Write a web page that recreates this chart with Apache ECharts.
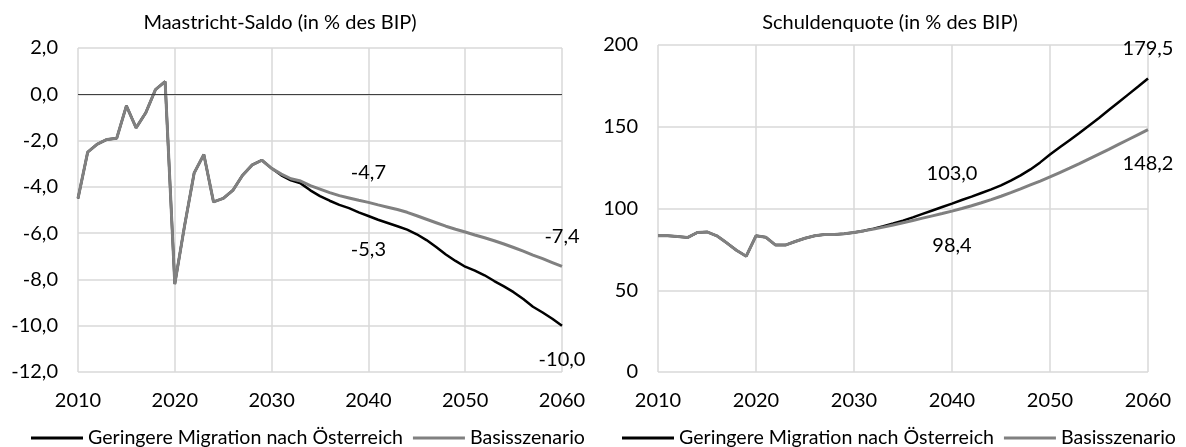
<!DOCTYPE html>
<html>
<head>
<meta charset="utf-8">
<title>Maastricht-Saldo und Schuldenquote</title>
<script src="https://cdn.jsdelivr.net/npm/echarts@6/dist/echarts.min.js"></script>
<style>
  html, body { margin: 0; padding: 0; background: #fff; }
  #chart { width: 1186px; height: 447px; }
</style>
</head>
<body>
<div id="chart"></div>
<script>
'use strict'

var years = [
  2010, 2011, 2012, 2013, 2014, 2015, 2016, 2017, 2018, 2019,
  2020, 2021, 2022, 2023, 2024, 2025, 2026, 2027, 2028, 2029,
  2030, 2031, 2032, 2033, 2034, 2035, 2036, 2037, 2038, 2039,
  2040, 2041, 2042, 2043, 2044, 2045, 2046, 2047, 2048, 2049,
  2050, 2051, 2052, 2053, 2054, 2055, 2056, 2057, 2058, 2059, 2060
];

var seriesNames = ['Geringere Migration nach Österreich', 'Basisszenario'];

// Maastricht-Saldo (in % des BIP)
var saldoGeringer = [
  -4.5, -2.5, -2.15, -1.95, -1.9, -0.5, -1.45, -0.8, 0.2, 0.55,
  -8.2, -5.7, -3.4, -2.6, -4.65, -4.5, -4.15, -3.5, -3.05, -2.85,
  -3.2, -3.5, -3.72, -3.85, -4.15, -4.4, -4.6, -4.78, -4.92, -5.1,
  -5.26, -5.42, -5.56, -5.7, -5.85, -6.05, -6.3, -6.6, -6.92, -7.2,
  -7.45, -7.62, -7.82, -8.07, -8.3, -8.55, -8.85, -9.18, -9.43, -9.7, -10.0
];
var saldoBasis = [
  -4.5, -2.5, -2.15, -1.95, -1.9, -0.5, -1.45, -0.8, 0.2, 0.55,
  -8.2, -5.7, -3.4, -2.6, -4.65, -4.5, -4.15, -3.5, -3.05, -2.85,
  -3.2, -3.45, -3.65, -3.75, -3.95, -4.1, -4.25, -4.38, -4.48, -4.58,
  -4.67, -4.78, -4.88, -4.98, -5.1, -5.25, -5.4, -5.55, -5.7, -5.83,
  -5.95, -6.08, -6.2, -6.33, -6.47, -6.62, -6.78, -6.95, -7.1, -7.27, -7.44
];

// Schuldenquote (in % des BIP)
var schuldGeringer = [
  83.3, 83.3, 82.9, 82.2, 85.3, 85.7, 83.3, 79.0, 74.5, 70.8,
  83.3, 82.4, 77.6, 77.6, 79.8, 81.8, 83.3, 84.1, 84.1, 84.5,
  85.3, 86.4, 87.7, 89.1, 90.8, 92.6, 94.6, 96.7, 98.8, 100.9,
  103.0, 105.2, 107.3, 109.5, 111.7, 114.2, 117.1, 120.3, 123.9, 128.2,
  133.0, 137.4, 141.8, 146.2, 150.8, 155.4, 160.2, 165.0, 169.8, 174.6, 179.5
];
var schuldBasis = [
  83.3, 83.3, 82.9, 82.2, 85.3, 85.7, 83.3, 79.0, 74.5, 70.8,
  83.3, 82.4, 77.6, 77.6, 79.8, 81.8, 83.3, 84.1, 84.1, 84.5,
  85.3, 86.3, 87.4, 88.6, 89.9, 91.3, 92.7, 94.1, 95.5, 96.9,
  98.4, 100.0, 101.7, 103.5, 105.4, 107.5, 109.7, 112.0, 114.4, 116.8,
  119.3, 122.0, 124.7, 127.5, 130.4, 133.3, 136.2, 139.2, 142.2, 145.2, 148.2
];

var labelledYears = [2040, 2060];

var saldoTicks = { min: -12, max: 2, interval: 2 };
var schuldTicks = { min: 0, max: 200, interval: 50 };

var FONT = 'Lato';
var FS = 20;
var TXT = '#000';
var GRIDC = '#d9d9d9';

function komma(v, d) {
  return v.toFixed(d).replace('.', ',');
}

// value labels only on the highlighted years
function withLabels(values, pos) {
  return values.map(function (v, i) {
    if (labelledYears.indexOf(years[i]) < 0) return v;
    return {
      value: v,
      label: {
        show: true,
        position: pos,
        distance: pos === 'top' ? 20 : 24,
        formatter: function (p) { return komma(p.value, 1); },
        fontFamily: FONT, fontSize: FS, color: TXT
      }
    };
  });
}

function xAxisFor(idx) {
  return {
    type: 'category', gridIndex: idx, data: years, boundaryGap: false,
    axisLine: { show: false }, axisTick: { show: false },
    axisLabel: {
      interval: 9, margin: 19, fontFamily: FONT, fontSize: FS, color: TXT
    },
    splitLine: { show: true, interval: 9, lineStyle: { color: GRIDC, width: 1.5 } }
  };
}

function yAxisFor(idx, ticks, dec) {
  return {
    type: 'value', gridIndex: idx,
    min: ticks.min, max: ticks.max, interval: ticks.interval,
    axisLine: { show: false }, axisTick: { show: false },
    axisLabel: {
      margin: 20, fontFamily: FONT, fontSize: FS, color: TXT,
      formatter: function (v) { return komma(v, dec); }
    },
    splitLine: { lineStyle: { color: GRIDC, width: 1.5 } }
  };
}

function lineSeries(name, idx, data, color, width, extra) {
  var s = {
    name: name, type: 'line', xAxisIndex: idx, yAxisIndex: idx,
    data: data, symbol: 'circle', symbolSize: 0, showSymbol: true, silent: true,
    lineStyle: { color: color, width: width },
    itemStyle: { color: color },
    emphasis: { disabled: true },
    animation: false
  };
  if (extra) s.markLine = extra;
  return s;
}

function legendFor(left) {
  return {
    data: seriesNames, left: left, top: 423, width: 575,
    icon: 'rect', itemWidth: 52, itemHeight: 3, itemGap: 10,
    textStyle: { fontFamily: FONT, fontSize: 19.6, color: TXT },
    selectedMode: false
  };
}

var zeroLine = {
  silent: true, symbol: 'none', label: { show: false },
  lineStyle: { color: '#404040', width: 1, type: 'solid' },
  data: [{ yAxis: 0 }]
};

var chart = echarts.init(document.getElementById('chart'));

var option = {
  backgroundColor: '#fff',
  animation: false,
  title: [
    {
      text: 'Maastricht-Saldo (in % des BIP)', left: 275, top: 8, textAlign: 'center',
      textStyle: { fontFamily: FONT, fontSize: FS, fontWeight: 'normal', color: TXT }
    },
    {
      text: 'Schuldenquote (in % des BIP)', left: 885, top: 8, textAlign: 'center',
      textStyle: { fontFamily: FONT, fontSize: FS, fontWeight: 'normal', color: TXT }
    }
  ],
  legend: [legendFor(26), legendFor(617)],
  grid: [
    { left: 78, right: 624, top: 48, bottom: 75 },
    { left: 658, right: 38, top: 45, bottom: 75 }
  ],
  xAxis: [xAxisFor(0), xAxisFor(1)],
  yAxis: [yAxisFor(0, saldoTicks, 1), yAxisFor(1, schuldTicks, 0)],
  series: [
    lineSeries(seriesNames[0], 0, withLabels(saldoGeringer, 'bottom'), '#000', 2.5, zeroLine),
    lineSeries(seriesNames[1], 0, withLabels(saldoBasis, 'top'), '#808080', 3),
    lineSeries(seriesNames[0], 1, withLabels(schuldGeringer, 'top'), '#000', 2.5),
    lineSeries(seriesNames[1], 1, withLabels(schuldBasis, 'bottom'), '#808080', 3)
  ]
};

chart.setOption(option);
window.addEventListener('resize', function () {
  chart.resize();
});
</script>
</body>
</html>
